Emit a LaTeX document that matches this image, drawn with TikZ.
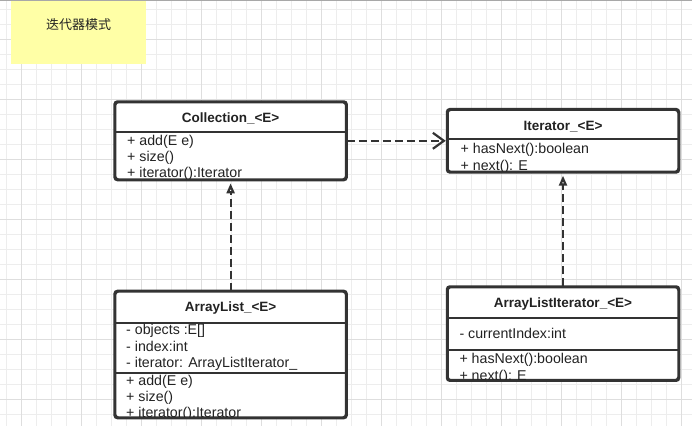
\documentclass[tikz,border=0pt]{standalone}
\usepackage{fontspec}
\setmainfont{Liberation Sans}
\newfontfamily\cjkfont{Noto Sans CJK SC}
\usetikzlibrary{arrows.meta}
\definecolor{linec}{HTML}{333333}
\definecolor{txtc}{HTML}{222222}
\definecolor{notey}{HTML}{FFFFA6}
\definecolor{gridminor}{HTML}{EDEDED}
\definecolor{gridmajor}{HTML}{DEDEDE}
\definecolor{topline}{HTML}{A8A8A8}
\begin{document}
\begin{tikzpicture}[x=1pt,y=-1pt,
  umlbox/.style={draw=linec, line width=2pt, rounded corners=3pt, fill=white, inner sep=0pt, minimum width=230.5pt},
  border/.style={draw=linec, line width=2pt, rounded corners=3pt},
  divider/.style={draw=linec, line width=2pt},
  titletext/.style={font=\fontsize{13.5}{16}\selectfont\bfseries, text=txtc, inner sep=0pt},
  row/.style={font=\fontsize{14.2}{16}\selectfont, text=txtc, anchor=west, inner sep=0pt, text height=10pt, text depth=3pt},
  conn/.style={draw=linec, line width=2.2pt, dash pattern=on 8pt off 4pt},
  minorgrid/.style={draw=gridminor, line width=1pt},
  majorgrid/.style={draw=gridmajor, line width=1pt},
]
\useasboundingbox (0,0) rectangle (692,426);
\clip (0,0) rectangle (692,426);
\fill[white] (0,0) rectangle (692,426);
% grid
\foreach \k in {0,...,45} \draw[minorgrid] ({6.7+15*\k},0) -- ({6.7+15*\k},426);
\foreach \k in {0,...,28} \draw[minorgrid] (0,{-5.5+15*\k}) -- (692,{-5.5+15*\k});
\foreach \k in {0,...,11} \draw[majorgrid] ({21.7+60*\k},0) -- ({21.7+60*\k},426);
\foreach \k in {0,...,6} \draw[majorgrid] (0,{39.5+60*\k}) -- (692,{39.5+60*\k});

% note
\fill[notey] (11,-2) rectangle (146,64);
\node[font=\cjkfont\fontsize{13}{15}\selectfont, text=txtc, inner sep=0pt] (note) at (78.5,24.5) {迭代器模式};
\draw[topline, line width=1.5pt] (0,0.5) -- (692,0.5);

% boxes
\node[umlbox, minimum height=77pt] (coll) at (230.6,140.8) {};
\node[umlbox, minimum height=61.7pt] (iter) at (563,140.8) {};
\node[umlbox, minimum height=125.6pt] (al) at (230.6,354.5) {};
\node[umlbox, minimum height=92.7pt] (ali) at (563,333.6) {};

% Collection
\draw[divider] (coll.west |- 0,131.7) -- (coll.east |- 0,131.7);
\node[titletext] (collt) at (230.6,118.5) {Collection\_<E>};
\begin{scope}
\clip (coll.south west) rectangle (coll.north east);
\node[row] (c1) at (127,142) {+ add(E e)};
\node[row] (c2) at (127,158.3) {+ size()};
\node[row] (c3) at (127,174) {+ iterator():Iterator};
\end{scope}
\draw[border] (coll.south west) rectangle (coll.north east);

% Iterator
\draw[divider] (iter.west |- 0,139.3) -- (iter.east |- 0,139.3);
\node[titletext] (itert) at (563,126.2) {Iterator\_<E>};
\begin{scope}
\clip (iter.south west) rectangle (iter.north east);
\node[row] (i1) at (460.5,149.7) {+ hasNext():boolean};
\node[row] (i2) at (460.5,166.6) {+ next(): E};
\end{scope}
\draw[border] (iter.south west) rectangle (iter.north east);

% ArrayList
\draw[divider] (al.west |- 0,322.7) -- (al.east |- 0,322.7);
\draw[divider] (al.west |- 0,372.7) -- (al.east |- 0,372.7);
\node[titletext] (alt) at (230.6,308.5) {ArrayList\_<E>};
\begin{scope}
\clip (al.south west) rectangle (al.north east);
\node[row] (a1) at (126,331.4) {- objects :E[]};
\node[row] (a2) at (126,348) {- index:int};
\node[row] (a3) at (126,364) {- iterator: ArrayListIterator\_};
\node[row] (a4) at (126,382) {+ add(E e)};
\node[row] (a5) at (126,397.6) {+ size()};
\node[row] (a6) at (126,413.8) {+ iterator():Iterator};
\end{scope}
\draw[border] (al.south west) rectangle (al.north east);

% ArrayListIterator
\draw[divider] (ali.west |- 0,317.7) -- (ali.east |- 0,317.7);
\draw[divider] (ali.west |- 0,350) -- (ali.east |- 0,350);
\node[titletext] (alit) at (563,304.3) {ArrayListIterator\_<E>};
\begin{scope}
\clip (ali.south west) rectangle (ali.north east);
\node[row] (l1) at (459.3,334.6) {- currentIndex:int};
\node[row] (l2) at (459.3,359.6) {+ hasNext():boolean};
\node[row] (l3) at (459.3,376.5) {+ next(): E};
\end{scope}
\draw[border] (ali.south west) rectangle (ali.north east);

% connectors
\draw[conn, -{Straight Barb[length=11pt,width=16pt]}, shorten >=1pt] (coll.east) -- (iter.west);
\draw[conn, -{Triangle[open,length=10pt,width=8pt,fill=white]}, shorten >=3pt] (al.north) -- (coll.south);
\draw[conn, -{Triangle[open,length=10pt,width=8pt,fill=white]}, shorten >=3pt] (ali.north) -- (iter.south);
\end{tikzpicture}
\end{document}
